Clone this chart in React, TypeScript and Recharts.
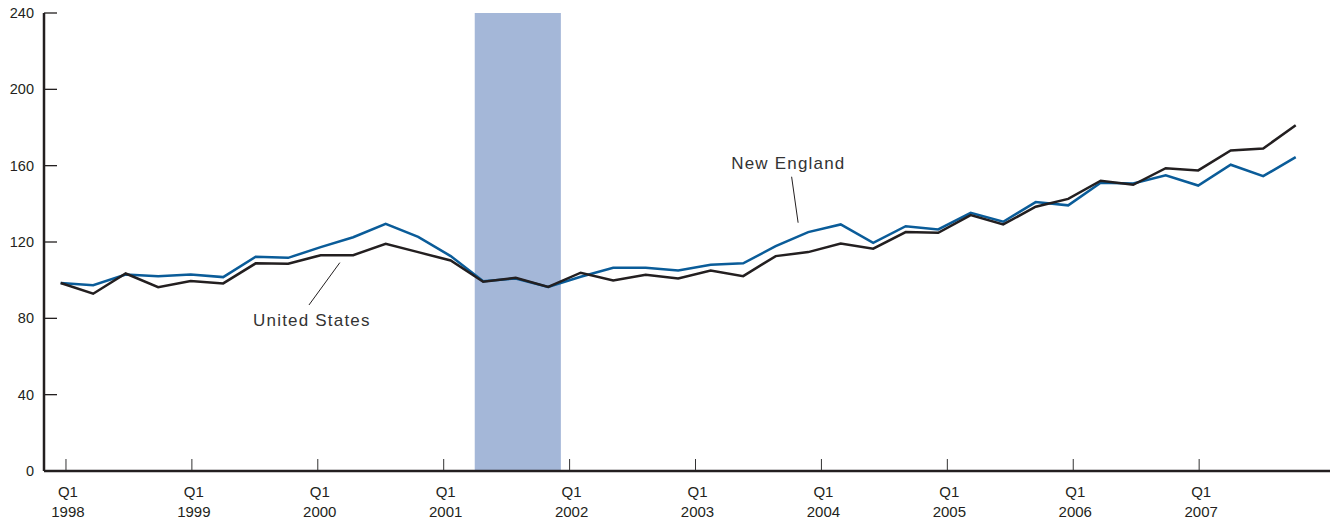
import React from "react";
import {
  ComposedChart,
  Line,
  XAxis,
  YAxis,
  ReferenceArea,
  ReferenceLine,
  ReferenceDot,
} from "recharts";

// Quarterly index values, Q1 1998 – Q3 2007
const quarterLabels = [
  "1998 Q1", "1998 Q2", "1998 Q3", "1998 Q4",
  "1999 Q1", "1999 Q2", "1999 Q3", "1999 Q4",
  "2000 Q1", "2000 Q2", "2000 Q3", "2000 Q4",
  "2001 Q1", "2001 Q2", "2001 Q3", "2001 Q4",
  "2002 Q1", "2002 Q2", "2002 Q3", "2002 Q4",
  "2003 Q1", "2003 Q2", "2003 Q3", "2003 Q4",
  "2004 Q1", "2004 Q2", "2004 Q3", "2004 Q4",
  "2005 Q1", "2005 Q2", "2005 Q3", "2005 Q4",
  "2006 Q1", "2006 Q2", "2006 Q3", "2006 Q4",
  "2007 Q1", "2007 Q2", "2007 Q3",
];

const newEngland = [
  98.5, 97.4, 103, 102.1, 103, 101.6, 112.3, 111.7, 117.3, 122.5,
  129.5, 122.7, 112.6, 99.5, 100.9, 96.5, 101.8, 106.5, 106.5, 105.1,
  108.1, 108.8, 117.8, 125.2, 129.2, 119.6, 128.3, 126.6, 135.3, 130.6,
  140.9, 139.2, 151, 150.7, 154.9, 149.6, 160.5, 154.5, 164.5,
];

const unitedStates = [
  98.5, 92.9, 103.5, 96.3, 99.5, 98.3, 108.8, 108.6, 113.1, 113.1,
  119.1, 114.7, 110.3, 99.2, 101.2, 96.5, 103.9, 99.8, 102.8, 100.9,
  105.1, 102.1, 112.6, 114.7, 119.2, 116.5, 125.2, 124.8, 134.1, 129.2,
  138.5, 142.6, 152.1, 150, 158.7, 157.5, 168, 169, 181.2,
];

const tickYears = [1998, 1999, 2000, 2001, 2002, 2003, 2004, 2005, 2006, 2007];
const yTicks = [0, 40, 80, 120, 160, 200, 240];

// Recession shading (March–November 2001), in quarter-index units
const recessionStart = 12.74;
const recessionEnd = 15.39;

// Year tick marks are placed on their own slightly tighter grid (as in the source)
const tickOffset = 0.163;
const tickStep = 3.874;
const tickPositions = tickYears.map((y) => tickOffset + (y - 1998) * tickStep);

const data = quarterLabels.map((label, i) => ({
  label,
  idx: i,
  newEngland: newEngland[i],
  unitedStates: unitedStates[i],
}));

const INK = "#231f20";
const BLUE = "#0a5c99";
const FONT = "'Liberation Sans', Arial, Helvetica, sans-serif";

const XTick = (props: any) => {
  const { x, y, index } = props;
  return (
    <g>
      <line x1={x} x2={x} y1={y - 1} y2={y - 12} stroke="#333" strokeWidth={1} />
      <text x={x + 2} y={y + 26} textAnchor="middle" fontSize={15} fill={INK} fontFamily={FONT}>
        Q1
      </text>
      <text x={x + 2} y={y + 46} textAnchor="middle" fontSize={15} fill={INK} fontFamily={FONT}>
        {tickYears[index]}
      </text>
    </g>
  );
};

const YTick = (props: any) => {
  const { x, y, payload } = props;
  return (
    <g>
      <line x1={x} x2={x + 13} y1={y} y2={y} stroke={INK} strokeWidth={1.3} />
      <text x={x - 10} y={y + 5} textAnchor="end" fontSize={14.5} fill={INK} fontFamily={FONT}>
        {payload.value}
      </text>
    </g>
  );
};

const makeLabel = (text: string) => (p: any) => (
  <text
    x={p.cx}
    y={p.cy}
    textAnchor="middle"
    fontSize={17}
    letterSpacing={1.2}
    fill="#333"
    fontFamily={FONT}
  >
    {text}
  </text>
);

export default function App() {
  return (
    <div style={{ position: "absolute", left: 0, top: 0, width: 1331, height: 525, background: "#fff" }}>
      <ComposedChart
        width={1331}
        height={525}
        data={data}
        margin={{ top: 13, right: 1, bottom: 0, left: 0 }}
      >
        <XAxis
          dataKey="idx"
          type="number"
          domain={[-0.513, 39.055]}
          allowDataOverflow
          ticks={tickPositions}
          interval={0}
          height={54}
          tickSize={0}
          tickMargin={0}
          tickLine={false}
          tick={<XTick />}
          axisLine={{ stroke: INK, strokeWidth: 2.5 }}
        />
        <YAxis
          type="number"
          domain={[0, 240]}
          ticks={yTicks}
          interval={0}
          width={44}
          tickSize={0}
          tickMargin={0}
          tickLine={false}
          tick={<YTick />}
          axisLine={{ stroke: INK, strokeWidth: 2.5 }}
        />
        <ReferenceArea
          x1={recessionStart}
          x2={recessionEnd}
          y1={0}
          y2={240}
          fill="#a4b7d8"
          fillOpacity={1}
          stroke="none"
          ifOverflow="visible"
        />
        <Line
          type="linear"
          dataKey="newEngland"
          stroke={BLUE}
          strokeWidth={2.5}
          dot={false}
          activeDot={false}
          isAnimationActive={false}
        />
        <Line
          type="linear"
          dataKey="unitedStates"
          stroke={INK}
          strokeWidth={2.5}
          dot={false}
          activeDot={false}
          isAnimationActive={false}
        />
        <ReferenceLine
          segment={[{ x: 22.49, y: 154.2 }, { x: 22.69, y: 130.1 }]}
          stroke={INK}
          strokeWidth={1}
          ifOverflow="visible"
        />
        <ReferenceLine
          segment={[{ x: 8.59, y: 109.2 }, { x: 7.64, y: 87.0 }]}
          stroke={INK}
          strokeWidth={1}
          ifOverflow="visible"
        />
        <ReferenceDot
          x={22.39}
          y={158.3}
          r={0}
          ifOverflow="visible"
          shape={makeLabel("New England")}
        />
        <ReferenceDot
          x={7.73}
          y={76.0}
          r={0}
          ifOverflow="visible"
          shape={makeLabel("United States")}
        />
      </ComposedChart>
    </div>
  );
}
